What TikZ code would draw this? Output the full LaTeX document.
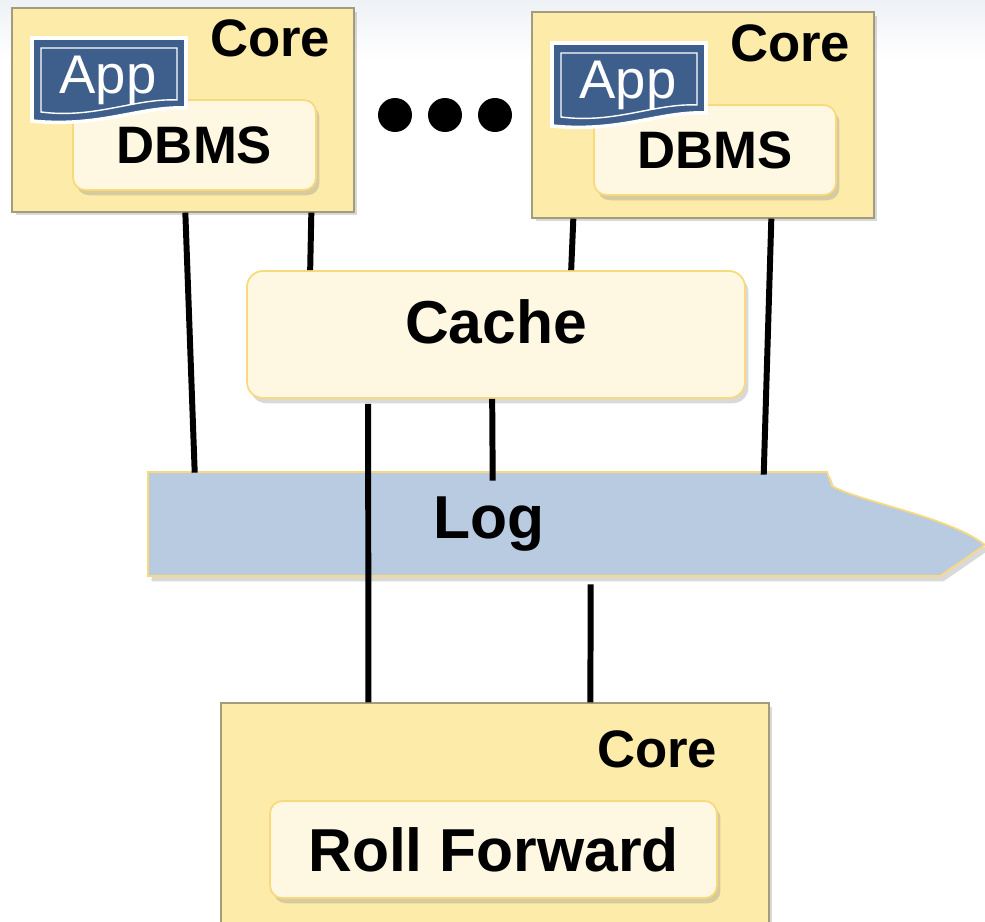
\documentclass[tikz,border=0pt]{standalone}
\usepackage{fontspec}
\setmainfont{Liberation Sans}
\usetikzlibrary{calc,shadows}
\definecolor{corefill}{HTML}{FDEBAA}
\definecolor{coreline}{HTML}{A29C7C}
\definecolor{partfill}{HTML}{FEF7E2}
\definecolor{partline}{HTML}{F8D97C}
\definecolor{logfill}{HTML}{B9CBE1}
\definecolor{appblue}{HTML}{3E5F8C}
\definecolor{bgtop}{HTML}{EEF1F5}
\tikzstyle{core}=[draw=coreline,fill=corefill,line width=0.8pt,inner sep=0pt,drop shadow={opacity=0.3,shadow xshift=2pt,shadow yshift=-2pt}]
\tikzstyle{part}=[draw=partline,fill=partfill,line width=1pt,rounded corners=7pt,inner sep=0pt,drop shadow={opacity=0.3,shadow xshift=2pt,shadow yshift=-3pt}]
\tikzstyle{coretag}=[font=\bfseries\fontsize{30}{32}\selectfont,inner sep=0pt]
\tikzstyle{parttext}=[font=\bfseries\fontsize{30}{32}\selectfont,inner sep=0pt]
\tikzstyle{bigtext}=[font=\bfseries\fontsize{34.5}{36}\selectfont,inner sep=0pt]
\tikzstyle{apptext}=[font=\fontsize{31}{33}\selectfont,text=white,inner sep=0pt]
\tikzstyle{wire}=[line width=3.4pt]

\begin{document}
\begin{tikzpicture}[x=0.02cm,y=-0.02cm]
  \useasboundingbox (0,0) rectangle (985,922);
  \shade[top color=bgtop,bottom color=white,draw=none] (0,0) rectangle (985,60);

  % upper cores
  \node[core,minimum width=6.84cm,minimum height=4.08cm] (core1) at (183,110) {};
  \node[part,minimum width=4.86cm,minimum height=1.8cm] (dbms1) at (194.5,145) {};
  \node[parttext] at (dbms1.center) {DBMS};
  \draw[fill=appblue,draw=white,line width=2pt] (32,38) -- (186,38) -- (186,108)
    .. controls (140,106) and (100,128) .. (32,121) -- cycle;
  \draw[white,line width=0.8pt] (41,48) -- (177,48) -- (177,100)
    .. controls (135,98) and (95,119) .. (41,112) -- cycle;
  \node[apptext] (app1) at (108,80) {App};
  \node[coretag,anchor=base east] (tag1) at ($(core1.north east)+(-24,49)$) {Core};

  \node[core,minimum width=6.84cm,minimum height=4.12cm] (core2) at (703,115) {};
  \node[part,minimum width=4.84cm,minimum height=1.8cm] (dbms2) at (715,150) {};
  \node[parttext] at (dbms2.center) {DBMS};
  \draw[fill=appblue,draw=white,line width=2pt] (552,43) -- (706,43) -- (706,113)
    .. controls (660,111) and (620,133) .. (552,126) -- cycle;
  \draw[white,line width=0.8pt] (561,53) -- (697,53) -- (697,105)
    .. controls (655,103) and (615,124) .. (561,117) -- cycle;
  \node[apptext] (app2) at (628,85) {App};
  \node[coretag,anchor=base east] (tag2) at ($(core2.north east)+(-24,50)$) {Core};

  \foreach \x in {395,445,495}
    \fill (\x,115) circle (0.34cm);

  % cache
  \node[part,rounded corners=9pt,minimum width=9.96cm,minimum height=2.54cm] (cache) at (496,334.5) {};
  \node[bigtext] at (496,322) {Cache};

  % log
  \fill[logfill,draw=partline,line width=1pt,drop shadow={opacity=0.3,shadow xshift=2pt,shadow yshift=-3pt}]
    (148,472) -- (827,472) -- (832,486) .. controls (860,502) and (950,517) .. (985,545)
    -- (940,576) -- (148,576) -- cycle;
  \node[bigtext,minimum width=13.56cm,minimum height=2.08cm] (log) at (489,524) {Log};

  % lower core
  \node[core,minimum width=10.96cm,minimum height=4.6cm] (rf) at (495,818) {};
  \node[part,minimum width=8.94cm,minimum height=1.94cm] (roll) at (493.5,849.5) {};
  \node[bigtext] at (roll.center) {Roll Forward};
  \node[coretag,anchor=base east] (tag3) at ($(rf.north east)+(-52,65)$) {Core};

  % connections
  \draw[wire] ($(core1.south west)+(174,0)$) -- ($(log.north west)+(45,1)$);
  \draw[wire] ($(core1.south west)+(300,0)$) -- ($(cache.north west)+(64,0)$);
  \draw[wire] ($(core2.south west)+(42,0)$) -- ($(cache.north west)+(325,0)$);
  \draw[wire] ($(core2.south west)+(240,0)$) -- ($(log.north west)+(614,3)$);
  \draw[wire] ($(cache.south west)+(122,5)$) -- ($(rf.north west)+(148,0)$);
  \draw[wire] ($(cache.south west)+(246,0)$) -- ($(log.north west)+(343,9)$);
  \draw[wire] ($(log.south west)+(441,8)$) -- ($(rf.north west)+(370,0)$);
\end{tikzpicture}
\end{document}
